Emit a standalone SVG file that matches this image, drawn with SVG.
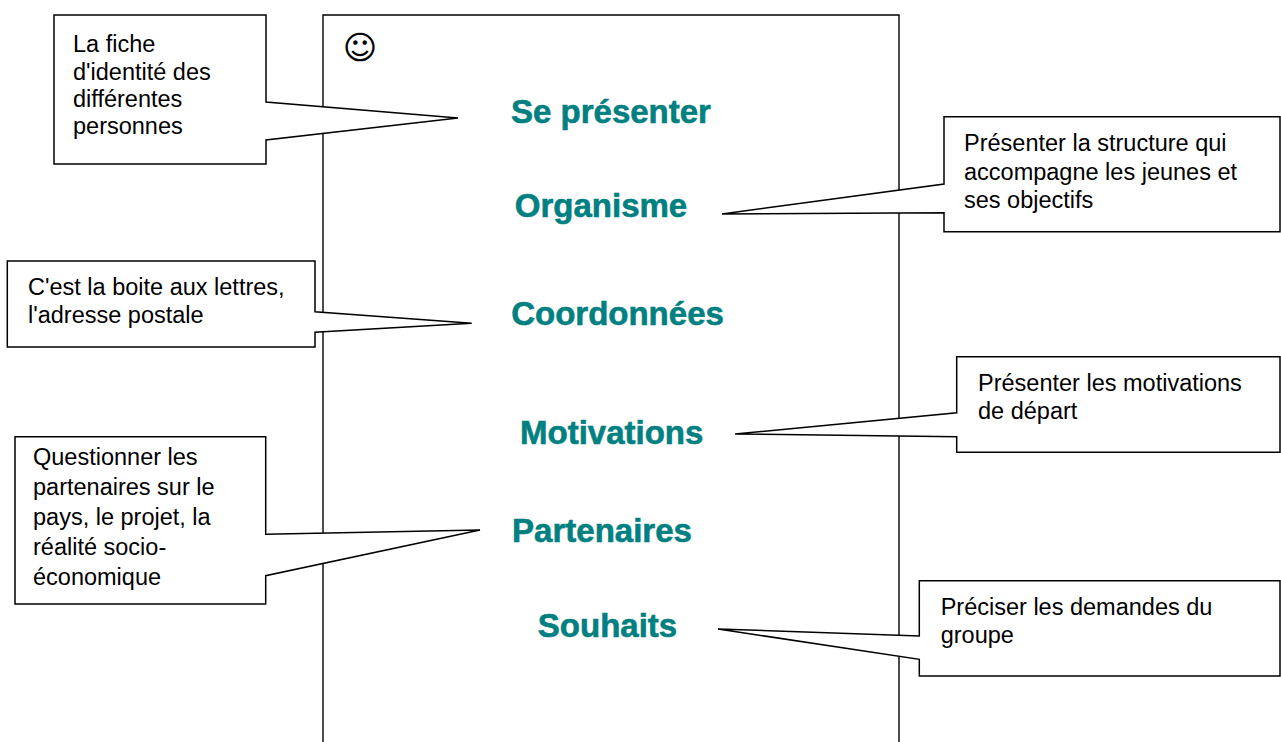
<svg xmlns="http://www.w3.org/2000/svg" width="1281" height="742" viewBox="0 0 1281 742">
<style>
.frame{fill:none;stroke:#000;stroke-width:1.4}
.callout{fill:#fff;stroke:#000;stroke-width:1.5;stroke-linejoin:miter}
.note{font-family:"Liberation Sans",Arial,sans-serif;font-size:23.5px;fill:#000}
.label{font-family:"Liberation Sans",Arial,sans-serif;font-size:33px;font-weight:bold;fill:#008080;stroke:#008080;stroke-width:0.6;text-anchor:middle}
.smiley{font-family:"DejaVu Sans",sans-serif;font-size:33px;fill:#000;text-anchor:middle}
</style>
<rect width="1281" height="742" fill="#fff"/>
<g id="page">
<path class="frame" d="M323,760 V15 H899 V760"/>
<text class="smiley" x="360" y="59">☺</text>
</g>
<g id="labels">
<text id="lbl-se-presenter" class="label" x="611" y="123.3">Se présenter</text>
<text id="lbl-organisme" class="label" x="601" y="216.7">Organisme</text>
<text id="lbl-coordonnees" class="label" x="617.5" y="325">Coordonnées</text>
<text id="lbl-motivations" class="label" x="611.7" y="444">Motivations</text>
<text id="lbl-partenaires" class="label" x="602" y="541.7">Partenaires</text>
<text id="lbl-souhaits" class="label" x="607.5" y="637.3">Souhaits</text>
</g>
<g id="connectors">
<g id="callout-1">
<path class="callout" d="M54,15 H266 V102 L458,118 L266,140 V164 H54 Z"/>
<text class="note"><tspan x="73" y="51.7">La fiche</tspan><tspan x="73" y="79.5">d'identité des</tspan><tspan x="73" y="106.8">différentes</tspan><tspan x="73" y="133.5">personnes</tspan></text>
</g>
<g id="callout-2">
<path class="callout" d="M944,116.7 H1280 V231.7 H944 V212.7 L722,214 L944,184 Z"/>
<text class="note"><tspan x="964" y="150.7">Présenter la structure qui</tspan><tspan x="964" y="179.5">accompagne les jeunes et</tspan><tspan x="964" y="208.3">ses objectifs</tspan></text>
</g>
<g id="callout-3">
<path class="callout" d="M7.3,261 H315 V311.7 L471.7,323.3 L315,332.3 V347 H7.3 Z"/>
<text class="note"><tspan x="28" y="295">C'est la boite aux lettres,</tspan><tspan x="28" y="323.3">l'adresse postale</tspan></text>
</g>
<g id="callout-4">
<path class="callout" d="M956.7,356.7 H1280 V452.3 H956.7 V436.7 L735,434 L956.7,412.7 Z"/>
<text class="note"><tspan x="978" y="390.7">Présenter les motivations</tspan><tspan x="978" y="419">de départ</tspan></text>
</g>
<g id="callout-5">
<path class="callout" d="M15,436.7 H265.7 V534.3 L480,530 L265.7,575.7 V604 H15 Z"/>
<text class="note"><tspan x="33" y="465">Questionner les</tspan><tspan x="33" y="495">partenaires sur le</tspan><tspan x="33" y="525">pays, le projet, la</tspan><tspan x="33" y="555">réalité socio-</tspan><tspan x="33" y="585">économique</tspan></text>
</g>
<g id="callout-6">
<path class="callout" d="M919.3,580.7 H1280 V676 H919.3 V659.3 L718,629 L919.3,636 Z"/>
<text class="note"><tspan x="940.7" y="615">Préciser les demandes du</tspan><tspan x="940.7" y="643.3">groupe</tspan></text>
</g>
</g>
</svg>
